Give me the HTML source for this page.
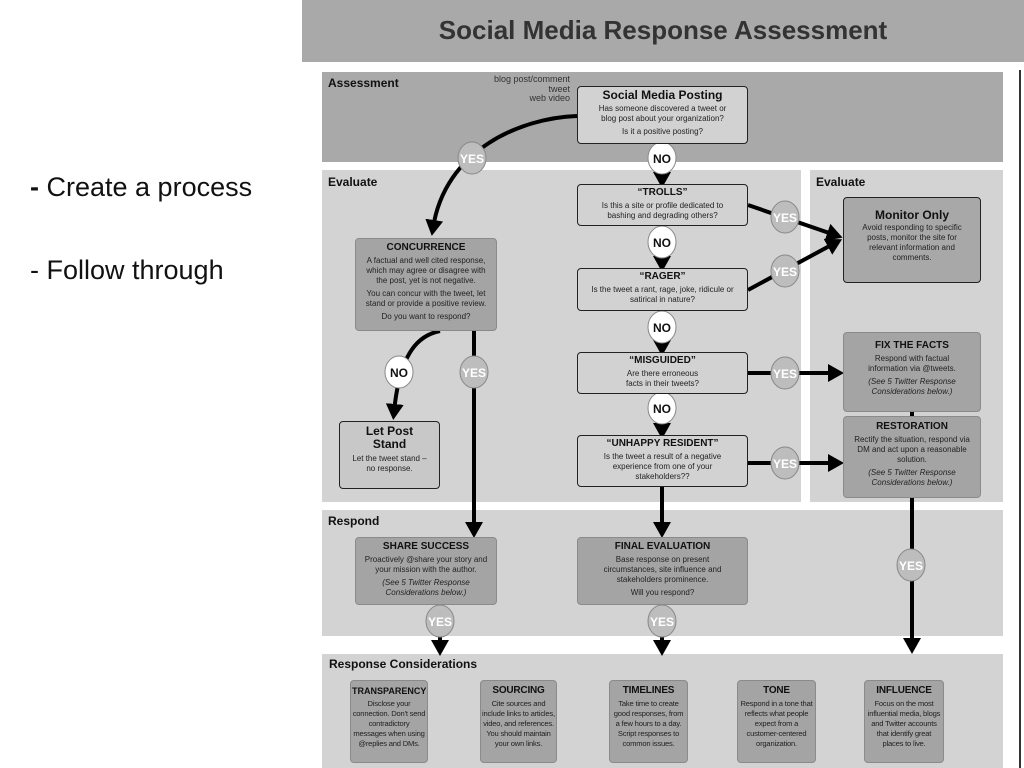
<!DOCTYPE html>
<html><head><meta charset="utf-8"><style>
*{margin:0;padding:0;box-sizing:border-box}
body{width:1024px;height:768px;background:#fff;position:relative;overflow:hidden;font-family:"Liberation Sans",sans-serif}
.a{position:absolute}
.panel{position:absolute;background:#d3d3d3}
.pl{position:absolute;font-weight:bold;font-size:12px;color:#111}
.box{position:absolute;border:1.5px solid #222;border-radius:4px;background:#d2d2d2;text-align:center;color:#222;font-size:8px;line-height:10px;padding:3px 6px 0}
.dk{background:#a4a4a4;border:1.5px solid #8a8a8a}
.box h4{font-size:10px;font-weight:bold;margin-bottom:3px;color:#111;white-space:nowrap}
.box p{margin-bottom:3px}
.box i{display:block}
.sm{font-size:7.6px;letter-spacing:-0.2px}
.side{position:absolute;left:30px;font-size:27px;color:#111;font-family:"Liberation Sans",sans-serif}
</style></head><body>
<div class="side" style="top:172px"><b>-</b> Create a process</div>
<div class="side" style="top:255px">- Follow through</div>

<div class="a" style="left:302px;top:0;width:722px;height:62px;background:#a9a9a9"></div>
<div class="a" style="left:302px;top:15px;width:722px;text-align:center;font-size:26px;font-weight:bold;color:#333">Social Media Response Assessment</div>
<div class="a" style="left:1019px;top:70px;width:2px;height:698px;background:#333"></div>

<div class="panel" style="left:322px;top:72px;width:681px;height:90px;background:#a9a9a9"></div>
<div class="panel" style="left:322px;top:170px;width:479px;height:332px"></div>
<div class="panel" style="left:810px;top:170px;width:193px;height:332px"></div>
<div class="panel" style="left:322px;top:510px;width:681px;height:126px"></div>
<div class="panel" style="left:322px;top:654px;width:681px;height:114px"></div>
<div class="pl" style="left:328px;top:76px">Assessment</div>
<div class="pl" style="left:328px;top:175px">Evaluate</div>
<div class="pl" style="left:816px;top:175px">Evaluate</div>
<div class="pl" style="left:328px;top:514px">Respond</div>
<div class="pl" style="left:329px;top:657px">Response Considerations</div>
<div class="a" style="left:440px;top:75px;width:130px;text-align:right;font-size:9px;line-height:9.5px;color:#333">blog post/comment<br>tweet<br>web video</div>

<svg class="a" style="left:0;top:0" width="1024" height="768">
<defs><marker id="ah" markerWidth="4" markerHeight="4.5" refX="2" refY="2.25" orient="auto" markerUnits="strokeWidth"><path d="M0,0 L4,2.25 L0,4.5z" fill="#000"/></marker></defs>
<g stroke="#000" stroke-width="4" fill="none">
<path d="M577,116 C520,118 445,150 433,228" marker-end="url(#ah)"/>
<path d="M662,144 L662,180" marker-end="url(#ah)"/>
<path d="M662,226 L662,264" marker-end="url(#ah)"/>
<path d="M662,311 L662,348" marker-end="url(#ah)"/>
<path d="M662,394 L662,431" marker-end="url(#ah)"/>
<path d="M662,487 L662,530" marker-end="url(#ah)"/>
<path d="M748,205 L835,235" marker-end="url(#ah)"/>
<path d="M748,290 L835,243" marker-end="url(#ah)"/>
<path d="M748,373 L836,373" marker-end="url(#ah)"/>
<path d="M748,463 L836,463" marker-end="url(#ah)"/>
<path d="M440,331 C420,335 400,350 394,412" marker-end="url(#ah)"/>
<path d="M474,331 L474,530" marker-end="url(#ah)"/>
<path d="M912,412 L912,418"/>
<path d="M912,498 L912,646" marker-end="url(#ah)"/>
<path d="M440,605 L440,648" marker-end="url(#ah)"/>
<path d="M662,605 L662,648" marker-end="url(#ah)"/>
</g>
<g font-family="Liberation Sans Narrow,Liberation Sans,sans-serif" font-weight="bold" font-size="12" text-anchor="middle">
<g fill="#bdbdbd" stroke="#888" stroke-width="1">
<ellipse cx="472" cy="158" rx="14" ry="16"/><ellipse cx="785" cy="217" rx="14" ry="16"/><ellipse cx="785" cy="271" rx="14" ry="16"/><ellipse cx="785" cy="373" rx="14" ry="16"/><ellipse cx="785" cy="463" rx="14" ry="16"/><ellipse cx="474" cy="372" rx="14" ry="16"/><ellipse cx="911" cy="565" rx="14" ry="16"/><ellipse cx="440" cy="621" rx="14" ry="16"/><ellipse cx="662" cy="621" rx="14" ry="16"/></g>
<g fill="#fff" stroke="#888" stroke-width="1">
<ellipse cx="662" cy="158" rx="14" ry="16"/><ellipse cx="662" cy="242" rx="14" ry="16"/><ellipse cx="662" cy="327" rx="14" ry="16"/><ellipse cx="662" cy="408" rx="14" ry="16"/><ellipse cx="399" cy="372" rx="14" ry="16"/></g>
<g fill="#fff"><text x="472" y="163">YES</text><text x="785" y="222">YES</text><text x="785" y="276">YES</text><text x="785" y="378">YES</text><text x="785" y="468">YES</text><text x="474" y="377">YES</text><text x="911" y="570">YES</text><text x="440" y="626">YES</text><text x="662" y="626">YES</text></g>
<g fill="#111"><text x="662" y="163">NO</text><text x="662" y="247">NO</text><text x="662" y="332">NO</text><text x="662" y="413">NO</text><text x="399" y="377">NO</text></g>
</g>
</svg>

<div class="box" style="left:577px;top:86px;width:171px;height:58px;padding:3px 14px 0"><h4 style="font-size:12px;margin-bottom:4px">Social Media Posting</h4><p>Has someone discovered a tweet or blog post about your organization?</p><p>Is it a positive posting?</p></div>
<div class="box" style="left:577px;top:184px;width:171px;height:42px;padding:3px 16px 0"><h4>“TROLLS”</h4><p>Is this a site or profile dedicated to bashing and degrading others?</p></div>
<div class="box" style="left:577px;top:268px;width:171px;height:43px;padding:3px 8px 0"><h4>“RAGER”</h4><p>Is the tweet a rant, rage, joke, ridicule or satirical in nature?</p></div>
<div class="box" style="left:577px;top:352px;width:171px;height:42px"><h4>“MISGUIDED”</h4><p>Are there erroneous<br>facts in their tweets?</p></div>
<div class="box" style="left:577px;top:435px;width:171px;height:52px;padding:3px 12px 0"><h4>“UNHAPPY RESIDENT”</h4><p>Is the tweet a result of a negative experience from one of your stakeholders??</p></div>
<div class="box dk" style="left:355px;top:238px;width:142px;height:93px;padding:4px 6px 0"><h4>CONCURRENCE</h4><p>A factual and well cited response, which may agree or disagree with the post, yet is not negative.</p><p>You can concur with the tweet, let stand or provide a positive review.</p><p>Do you want to respond?</p></div>
<div class="box" style="left:339px;top:421px;width:101px;height:68px;background:#c8c8c8"><h4 style="font-size:12px;line-height:13px">Let Post<br>Stand</h4><p>Let the tweet stand –<br>no response.</p></div>
<div class="box" style="left:843px;top:197px;width:138px;height:86px;background:#a8a8a8;padding:12px 10px 0"><h4 style="font-size:12px">Monitor Only</h4><p>Avoid responding to specific posts, monitor the site for relevant information and comments.</p></div>
<div class="box dk" style="left:843px;top:332px;width:138px;height:80px;padding:8px 10px 0"><h4>FIX THE FACTS</h4><p>Respond with factual<br>information via @tweets.</p><i>(See 5 Twitter Response Considerations below.)</i></div>
<div class="box dk" style="left:843px;top:416px;width:138px;height:82px;padding:5px 8px 0"><h4>RESTORATION</h4><p>Rectify the situation, respond via DM and act upon a reasonable solution.</p><i>(See 5 Twitter Response Considerations below.)</i></div>
<div class="box dk" style="left:355px;top:537px;width:142px;height:68px;padding:4px 8px 0"><h4>SHARE SUCCESS</h4><p>Proactively @share your story and your mission with the author.</p><i>(See 5 Twitter Response Considerations below.)</i></div>
<div class="box dk" style="left:577px;top:537px;width:171px;height:68px;padding:4px 14px 0"><h4>FINAL EVALUATION</h4><p>Base response on present circumstances, site influence and stakeholders prominence.</p><p>Will you respond?</p></div>

<div class="box dk sm" style="left:350px;top:680px;width:78px;height:83px;padding:5px 1px 0"><h4 style="font-size:9px;letter-spacing:0">TRANSPARENCY</h4><p>Disclose your connection. Don't send contradictory messages when using @replies and DMs.</p></div>
<div class="box dk sm" style="left:480px;top:680px;width:77px;height:83px;padding:5px 1px 0"><h4>SOURCING</h4><p>Cite sources and include links to articles, video, and references. You should maintain your own links.</p></div>
<div class="box dk sm" style="left:609px;top:680px;width:79px;height:83px;padding:5px 1px 0"><h4>TIMELINES</h4><p>Take time to create good responses, from a few hours to a day. Script responses to common issues.</p></div>
<div class="box dk sm" style="left:737px;top:680px;width:79px;height:83px;padding:5px 1px 0"><h4>TONE</h4><p>Respond in a tone that reflects what people expect from a customer-centered organization.</p></div>
<div class="box dk sm" style="left:864px;top:680px;width:80px;height:83px;padding:5px 1px 0"><h4>INFLUENCE</h4><p>Focus on the most influential media, blogs and Twitter accounts that identify great places to live.</p></div>
</body></html>
